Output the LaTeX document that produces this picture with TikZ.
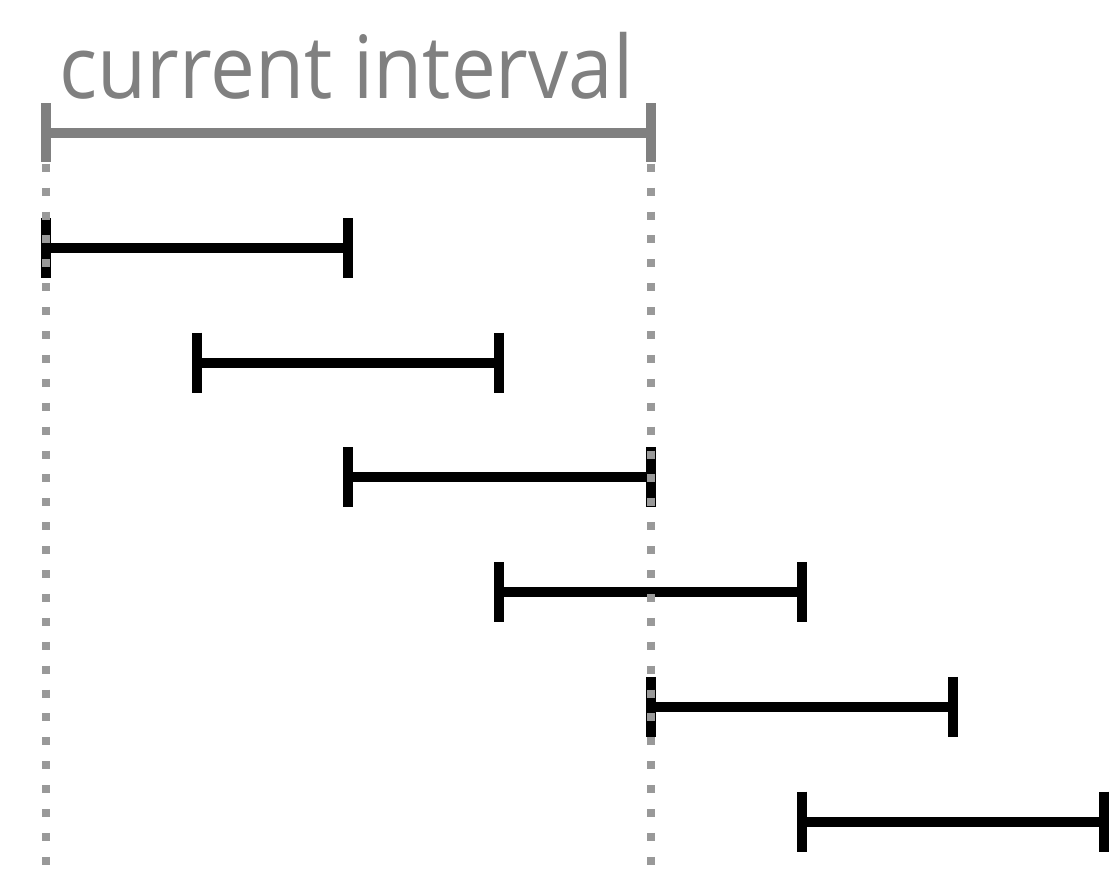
\documentclass[tikz,border=0pt]{standalone}
\usepackage{fontspec}
\setsansfont{Open Sans}
\definecolor{curgray}{HTML}{808080}
\definecolor{dotgray}{HTML}{999999}
\begin{document}
\begin{tikzpicture}[x=1pt,y=-1pt,
  ivl/.style={line width=10pt},
  cur/.style={ivl, draw=curgray},
  seg/.style={ivl, draw=black},
  guide/.style={draw=dotgray, line width=8pt, dash pattern=on 8pt off 15.9pt},
  lab/.style={anchor=base west, text=curgray, inner sep=0pt,
    font=\sffamily\fontsize{80}{80}\selectfont}]
\useasboundingbox (0,0) rectangle (1112,873);
% current interval
\coordinate (cl) at (45.8,132.5);
\coordinate (cr) at (650.6,132.5);
\draw[cur] (cl) -- (cr);
\draw[cur] ([yshift=29.5pt]cl) -- ([yshift=-29.5pt]cl);
\draw[cur] ([yshift=29.5pt]cr) -- ([yshift=-29.5pt]cr);
\node[lab, xscale=1.0, yscale=1.09] (title) at (59.4,98.3) {current interval};
% intervals
\foreach \k in {0,...,5}{
  \pgfmathsetmacro{\xa}{45.8+151.2*\k}
  \pgfmathsetmacro{\xb}{\xa+302.4}
  \pgfmathsetmacro{\yy}{248+114.7*\k}
  \coordinate (a\k) at (\xa,\yy);
  \coordinate (b\k) at (\xb,\yy);
  \draw[seg] (a\k) -- (b\k);
  \draw[seg] ([yshift=30pt]a\k) -- ([yshift=-30pt]a\k);
  \draw[seg] ([yshift=30pt]b\k) -- ([yshift=-30pt]b\k);
}
% guides
\coordinate (gl1) at (46,163.7);
\coordinate (gl2) at (46,866);
\coordinate (gr1) at (650.5,163.7);
\coordinate (gr2) at (650.5,866);
\draw[guide] (gl1) -- (gl2);
\draw[guide] (gr1) -- (gr2);
\end{tikzpicture}
\end{document}
